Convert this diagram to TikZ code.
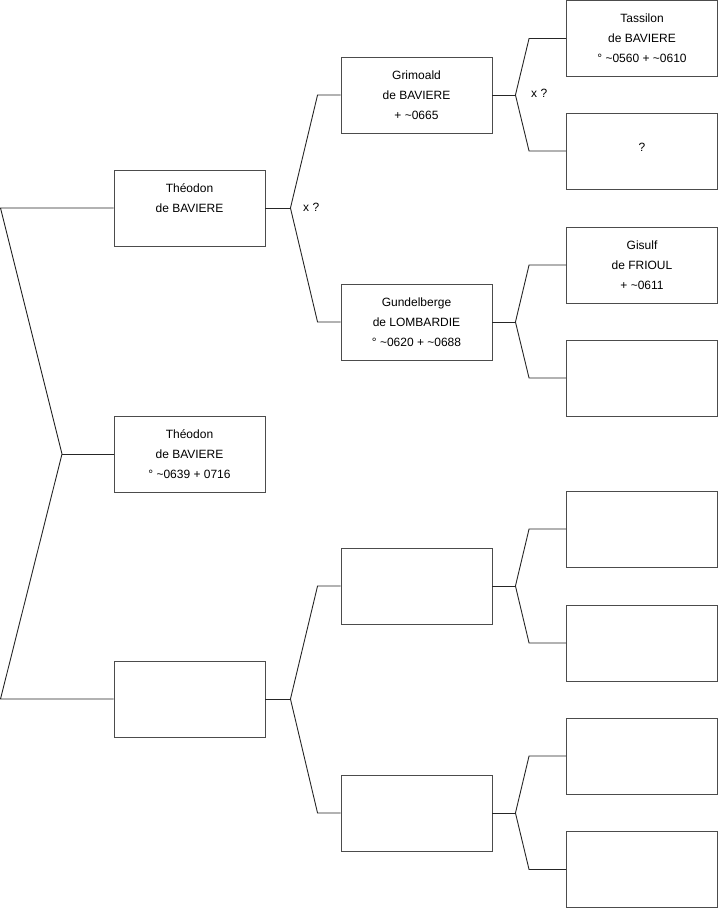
\documentclass[tikz,border=0pt]{standalone}
\usepackage{fontspec}
\setmainfont{Liberation Sans}
\usetikzlibrary{positioning}

\begin{document}
\begin{tikzpicture}[
    x=1pt, y=-1pt,
    person/.style={rectangle, draw=black!70, fill=white, line width=0.9pt,
                   minimum width=151pt, minimum height=76pt, inner sep=0pt,
                   align=center, font=\fontsize{12}{20}\selectfont},
    link/.style={draw=black!85, line width=0.9pt},
    marriage/.style={font=\fontsize{12}{14}\selectfont, anchor=west, inner sep=0pt}
]
    \useasboundingbox (0,0) rectangle (719,908);

    % Generation 1
    \node[person] (a1) at (189.5,454) {Théodon\\de BAVIERE\\° \textasciitilde0639 + 0716};

    % Generation 2
    \node[person] (a2) at (189.5,208) {Théodon\\de BAVIERE\\\mbox{}};
    \node[person] (a3) at (189.5,699) {};

    % Generation 3
    \node[person] (a4) at (416.5,95) {Grimoald\\de BAVIERE\\+ \textasciitilde0665};
    \node[person] (a5) at (416.5,322) {Gundelberge\\de LOMBARDIE\\° \textasciitilde0620 + \textasciitilde0688};
    \node[person] (a6) at (416.5,586) {};
    \node[person] (a7) at (416.5,813) {};

    % Generation 4
    \node[person] (a8) at (642,38.5) {Tassilon\\de BAVIERE\\° \textasciitilde0560 + \textasciitilde0610};
    \node[person] (a9) at (642,151) {\mbox{}\\?\\\mbox{}};
    \node[person] (a10) at (642,265) {Gisulf\\de FRIOUL\\+ \textasciitilde0611};
    \node[person] (a11) at (642,378) {};
    \node[person] (a12) at (642,529) {};
    \node[person] (a13) at (642,643) {};
    \node[person] (a14) at (642,756) {};
    \node[person] (a15) at (642,869.5) {};

    % Fork points
    \coordinate (j1) at (62,454);
    \coordinate (k2) at (0.5,208);
    \coordinate (k3) at (0.5,699);
    \coordinate (j2) at ([xshift=25]a2.east);
    \coordinate (j3) at ([xshift=25]a3.east);
    \coordinate (j4) at ([xshift=23]a4.east);
    \coordinate (j5) at ([xshift=23]a5.east);
    \coordinate (j6) at ([xshift=23]a6.east);
    \coordinate (j7) at ([xshift=23]a7.east);

    % Links generation 1 -> 2
    \draw[link] (a2.west) -- (k2) -- (j1) -- (k3) -- (a3.west);
    \draw[link] (a1.west) -- (j1);

    % Links generation 2 -> 3
    \draw[link] (a2.east) -- (j2);
    \draw[link] (a4.west) -- ([xshift=-23]a4.west) -- (j2) -- ([xshift=-23]a5.west) -- (a5.west);
    \draw[link] (a3.east) -- (j3);
    \draw[link] (a6.west) -- ([xshift=-23]a6.west) -- (j3) -- ([xshift=-23]a7.west) -- (a7.west);

    % Links generation 3 -> 4
    \draw[link] (a4.east) -- (j4);
    \draw[link] (a8.west) -- ([xshift=-37]a8.west) -- (j4) -- ([xshift=-37]a9.west) -- (a9.west);
    \draw[link] (a5.east) -- (j5);
    \draw[link] (a10.west) -- ([xshift=-37]a10.west) -- (j5) -- ([xshift=-37]a11.west) -- (a11.west);
    \draw[link] (a6.east) -- (j6);
    \draw[link] (a12.west) -- ([xshift=-37]a12.west) -- (j6) -- ([xshift=-37]a13.west) -- (a13.west);
    \draw[link] (a7.east) -- (j7);
    \draw[link] (a14.west) -- ([xshift=-37]a14.west) -- (j7) -- ([xshift=-37]a15.west) -- (a15.west);

    % Marriage marks
    \node[marriage] (m2) at (303,207) {x ?};
    \node[marriage] (m4) at (531,93) {x ?};
\end{tikzpicture}
\end{document}
